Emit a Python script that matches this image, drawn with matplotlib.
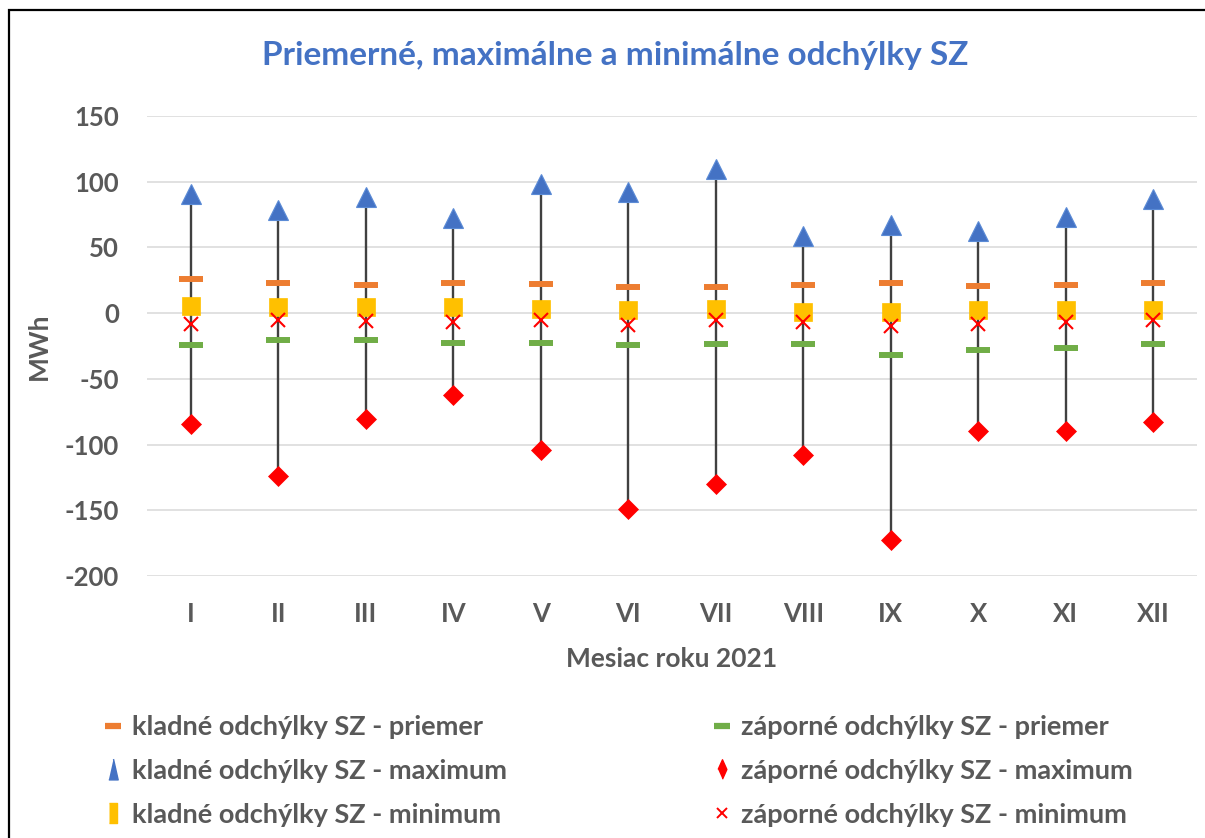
import matplotlib.pyplot as plt
from matplotlib.lines import Line2D
from matplotlib.patches import Rectangle

# mesiace roku 2021
mesiace = ["I", "II", "III", "IV", "V", "VI", "VII", "VIII", "IX", "X", "XI", "XII"]

# kladné odchýlky SZ [MWh]
kladne_priemer = [25.7, 22.7, 21.7, 22.7, 22.0, 19.9, 19.9, 21.7, 22.7, 20.7, 21.7, 22.7]
kladne_maximum = [90.4, 78.3, 88.3, 72.7, 98.0, 91.8, 109.5, 58.9, 67.0, 62.7, 73.5, 87.0]
kladne_minimum = [5.3, 4.3, 4.3, 4.3, 3.0, 2.3, 3.3, 1.2, 1.2, 2.3, 2.3, 2.3]

# záporné odchýlky SZ [MWh]
zaporne_priemer = [-24.4, -20.3, -20.3, -22.4, -22.4, -24.4, -23.4, -23.4, -32.0, -28.2, -26.2, -23.4]
zaporne_maximum = [-84.5, -123.6, -80.4, -62.2, -104.0, -148.9, -130.1, -107.8, -172.5, -89.3, -89.3, -82.5]
zaporne_minimum = [-7.9, -5.3, -6.3, -7.1, -5.0, -8.9, -5.3, -7.1, -9.6, -7.9, -7.1, -5.3]

SIVA = "#595959"
ORANZOVA = "#ED7D31"
MODRA = "#4472C4"
ZLTA = "#FFC000"
ZELENA = "#70AD47"
CERVENA = "#FF0000"
PISMO = 18.5

plt.rcParams["font.family"] = ["Lato", "DejaVu Sans"]
plt.rcParams["axes.unicode_minus"] = False

W, H = 1205, 838
fig = plt.figure(figsize=(W / 100, H / 100), dpi=100)
fig.patch.set_facecolor("white")

# rámček okolo grafu
fig.add_artist(Rectangle((9 / W, -0.1), 1.2, 1 - 10 / H + 0.1, transform=fig.transFigure,
                         fill=False, ec="black", lw=1.6, zorder=0))

ax = fig.add_axes([147 / W, 1 - 576 / H, (1197 - 147) / W, (576 - 116) / H])
x = list(range(len(mesiace)))

# čiary medzi maximom kladných a maximom záporných odchýlok
ax.vlines(x, zaporne_maximum, kladne_maximum, color="#404040", lw=1.7, zorder=2)

ax.plot(x, kladne_priemer, ls="none", marker="_", ms=17, mew=4.3, color=ORANZOVA, zorder=3)
ax.plot(x, zaporne_priemer, ls="none", marker="_", ms=17, mew=4.3, color=ZELENA, zorder=3)
ax.plot(x, kladne_maximum, ls="none", marker="^", ms=14.4, mew=0.8, color=MODRA,
        mec="#5B8BD6", zorder=4)
ax.plot(x, zaporne_maximum, ls="none", marker="D", ms=10, mew=0.5, color=CERVENA, zorder=4)
ax.plot(x, kladne_minimum, ls="none", marker="s", ms=13.2, mew=0.5, color=ZLTA, zorder=4)
ax.plot(x, zaporne_minimum, ls="none", marker="x", ms=9.5, mew=1.5, color=CERVENA, zorder=5)

ax.set_xlim(-0.5, len(mesiace) - 0.5)
ax.set_ylim(-200, 150)
ax.set_yticks(range(-200, 151, 50))
ax.set_xticks(x)
ax.set_xticklabels(mesiace)
ax.grid(axis="y", color="#D9D9D9", lw=1.1)
ax.set_axisbelow(True)
for s in ax.spines.values():
    s.set_visible(False)
ax.tick_params(length=0, labelsize=PISMO, labelcolor=SIVA, pad=19)
ax.tick_params(axis="y", pad=20)
for lab in ax.get_xticklabels() + ax.get_yticklabels():
    lab.set_fontweight("bold")

ax.set_xlabel("Mesiac roku 2021", fontsize=19, color=SIVA, fontweight="bold", labelpad=15)
ax.set_ylabel("MWh", fontsize=19, color=SIVA, fontweight="bold", labelpad=10)

fig.text(615 / W, 1 - 55 / H, "Priemerné, maximálne a minimálne odchýlky SZ",
         ha="center", va="center", fontsize=24, fontweight="bold", color=MODRA)

# zúžené značky v legende
uzky_trojuholnik = [(-0.45, -1), (0.45, -1), (0, 1)]
uzky_obdlznik = [(-0.42, -1), (0.42, -1), (0.42, 1), (-0.42, 1)]
uzky_kosostvorec = [(0, -1), (0.45, 0), (0, 1), (-0.45, 0)]

lavy = [
    Line2D([], [], ls="none", marker="_", ms=12, mew=4.5, color=ORANZOVA),
    Line2D([], [], ls="none", marker=uzky_trojuholnik, ms=15, color=MODRA),
    Line2D([], [], ls="none", marker=uzky_obdlznik, ms=15, color=ZLTA),
]
pravy = [
    Line2D([], [], ls="none", marker="_", ms=12, mew=4.5, color=ZELENA),
    Line2D([], [], ls="none", marker=uzky_kosostvorec, ms=14, color=CERVENA),
    Line2D([], [], ls="none", marker="x", ms=7.5, mew=1.4, color=CERVENA),
]
lavy_text = ["kladné odchýlky SZ - priemer", "kladné odchýlky SZ - maximum",
             "kladné odchýlky SZ - minimum"]
pravy_text = ["záporné odchýlky SZ - priemer", "záporné odchýlky SZ - maximum",
              "záporné odchýlky SZ - minimum"]

for handles, texts, x0 in [(lavy, lavy_text, 102), (pravy, pravy_text, 711)]:
    leg = fig.legend(handles, texts, loc="upper left", bbox_to_anchor=(x0 / W, 1 - 715 / H),
                     frameon=False, fontsize=19.5, handlelength=0.8, handletextpad=0.3,
                     labelspacing=0.73, borderpad=0, borderaxespad=0)
    for t in leg.get_texts():
        t.set_color(SIVA)
        t.set_fontweight("bold")

fig.savefig("out.png", dpi=100)
